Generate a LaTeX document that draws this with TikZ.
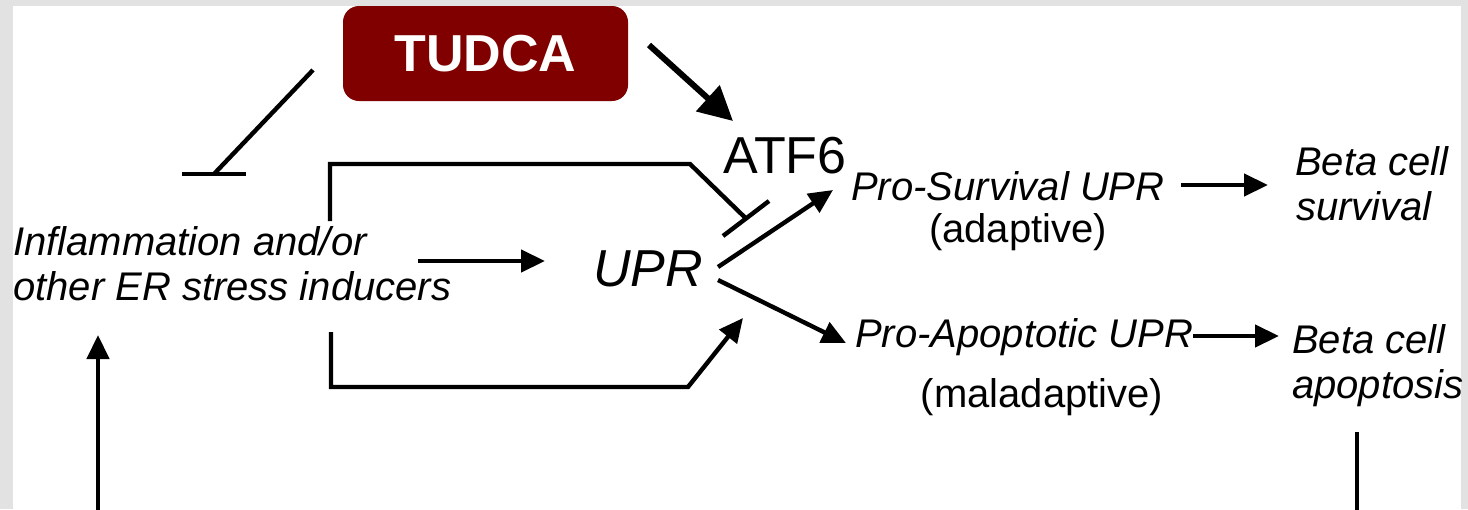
\documentclass[tikz,border=0pt]{standalone}
\usepackage{fontspec}
\setmainfont{Liberation Sans}
\usetikzlibrary{arrows.meta}
\definecolor{tudcared}{RGB}{128,0,0}
\definecolor{framegray}{RGB}{226,226,226}
\begin{document}
\begin{tikzpicture}[x=1pt,y=-1pt,
  lbl/.style={inner sep=0pt,anchor=base west,font=\fontsize{40}{45}\selectfont\itshape},
  plainlbl/.style={inner sep=0pt,anchor=base,font=\fontsize{40}{45}\selectfont},
  big/.style={inner sep=0pt,anchor=base west,font=\fontsize{52}{60}\selectfont},
  drugbox/.style={fill=tudcared,text=white,rounded corners=16pt,minimum width=285pt,
    minimum height=95pt,inner sep=0pt,font=\fontsize{52}{60}\selectfont\bfseries},
  conn/.style={line width=4.4pt},
  arr/.style={conn,-{Triangle[length=24pt,width=22pt]}},
  bigarr/.style={line width=6pt,-{Triangle[length=34pt,width=34pt]}}]
\fill[framegray] (0,0) rectangle (1468,509);
\fill[white] (13,6) rectangle (1461,509);
\useasboundingbox (0,0) rectangle (1468,509);

% nodes
\node[drugbox] (tudca) at (485.5,53.5) {TUDCA};
\node[big] (atf) at (723,173) {ATF6};
\node[big,font=\fontsize{52}{60}\selectfont\itshape] (upr) at (593,286) {UPR};
\node[lbl] (infl1) at (13,255) {Inflammation and/or};
\node[lbl] (infl2) at (13,300) {other ER stress inducers};
\node[lbl] (prosurv) at (851,200) {Pro-Survival UPR};
\node[plainlbl] (adapt) at (1018,242) {(adaptive)};
\node[lbl] (proapop) at (855,347) {Pro-Apoptotic UPR};
\node[plainlbl] (malad) at (1042,407) {(maladaptive)};
\node[lbl] (bsurv1) at (1295,175) {Beta cell};
\node[lbl] (bsurv2) at (1296,220) {survival};
\node[lbl] (bapop1) at (1292,353) {Beta cell};
\node[lbl] (bapop2) at (1292,398) {apoptosis};

% connector end points
\coordinate (tA) at (313,70);
\coordinate (tB) at (214,174);
\coordinate (tBl) at (182,174);
\coordinate (tBr) at (246,174);
\coordinate (dA) at (649,45);
\coordinate (dB) at (733,121);
\coordinate (uA) at (330,221);
\coordinate (uK) at (690,164);
\coordinate (uB) at (746,218.5);
\coordinate (uBl) at (723,236);
\coordinate (uBr) at (769,201);
\coordinate (mA) at (418,261);
\coordinate (mB) at (545,261);
\coordinate (lA) at (331,332);
\coordinate (lK) at (688,387);
\coordinate (lB) at (743,318);
\coordinate (sA) at (718,267);
\coordinate (sB) at (833,190);
\coordinate (pA) at (718,280);
\coordinate (pB) at (846,343);
\coordinate (s2A) at (1181,185);
\coordinate (s2B) at (1268,185);
\coordinate (p2A) at (1193,336);
\coordinate (p2B) at (1279,336);
\coordinate (fA) at (98,515);
\coordinate (fB) at (98,335);
\coordinate (rA) at (1357,432);
\coordinate (rB) at (1357,515);

% connectors
\draw[conn] (tA) -- (tB);
\draw[conn] (tBl) -- (tBr);
\draw[bigarr] (dA) -- (dB);
\draw[conn] (uA) |- (uK) -- (uB);
\draw[conn] (uBl) -- (uBr);
\draw[arr] (mA) -- (mB);
\draw[arr] (lA) |- (lK) -- (lB);
\draw[arr] (sA) -- (sB);
\draw[arr] (pA) -- (pB);
\draw[arr] (s2A) -- (s2B);
\draw[arr] (p2A) -- (p2B);
\draw[arr] (fA) -- (fB);
\draw[conn] (rA) -- (rB);
\end{tikzpicture}
\end{document}
